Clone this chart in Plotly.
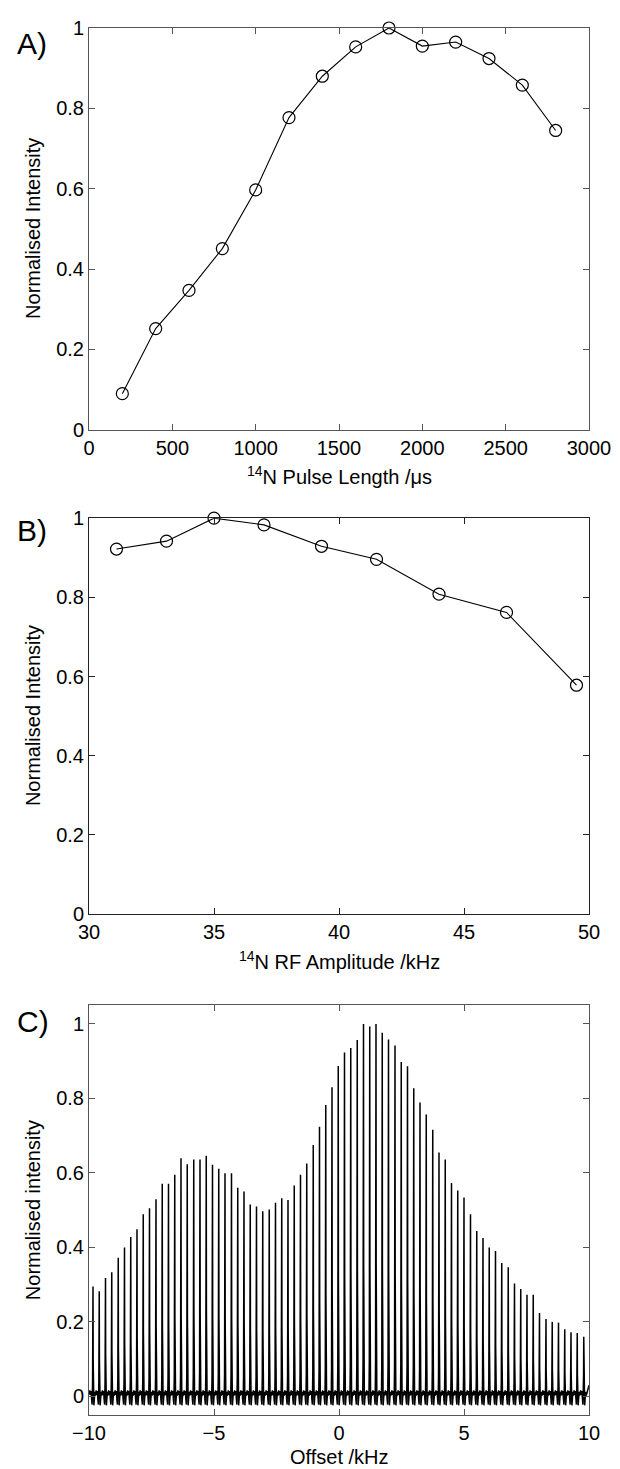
import plotly.graph_objects as go
from plotly.subplots import make_subplots

# A) 14N pulse length sweep
pulse_len_us = [200, 400, 600, 800, 1000, 1200, 1400, 1600, 1800, 2000, 2200, 2400, 2600, 2800]
pulse_int = [0.090, 0.252, 0.347, 0.451, 0.597, 0.777, 0.880, 0.953, 1.0, 0.955, 0.965, 0.924, 0.858, 0.745]

# B) 14N RF amplitude sweep
rf_amp_khz = [31.1, 33.1, 35.0, 37.0, 39.3, 41.5, 44.0, 46.7, 49.5]
rf_int = [0.922, 0.942, 1.0, 0.983, 0.929, 0.896, 0.808, 0.762, 0.578]

# C) offset profile: sideband positions (kHz) and heights
peak_offset_khz = [
    -9.84, -9.59, -9.34, -9.09, -8.83, -8.58, -8.33, -8.08, -7.83, -7.58,
    -7.32, -7.07, -6.82, -6.57, -6.32, -6.07, -5.81, -5.56, -5.31, -5.06,
    -4.81, -4.56, -4.30, -4.05, -3.80, -3.55, -3.30, -3.05, -2.79, -2.54,
    -2.29, -2.04, -1.79, -1.54, -1.29, -1.03, -0.78, -0.53, -0.28, -0.03,
    0.22, 0.47, 0.73, 0.98, 1.23, 1.48, 1.73, 1.98, 2.24, 2.49,
    2.74, 2.99, 3.24, 3.49, 3.75, 4.00, 4.25, 4.50, 4.75, 5.00,
    5.26, 5.51, 5.76, 6.01, 6.26, 6.51, 6.77, 7.02, 7.27, 7.52,
    7.77, 8.02, 8.28, 8.53, 8.78, 9.03, 9.28, 9.53, 9.79,
]
peak_height = [
    0.295, 0.282, 0.318, 0.333, 0.372, 0.400, 0.428, 0.449, 0.489, 0.505,
    0.529, 0.571, 0.571, 0.595, 0.639, 0.623, 0.636, 0.636, 0.646, 0.622,
    0.611, 0.599, 0.599, 0.560, 0.550, 0.515, 0.510, 0.497, 0.502, 0.520,
    0.532, 0.527, 0.566, 0.595, 0.625, 0.675, 0.724, 0.782, 0.830, 0.887,
    0.923, 0.935, 0.957, 1.0, 0.993, 1.0, 0.976, 0.958, 0.942, 0.898,
    0.886, 0.827, 0.789, 0.757, 0.716, 0.655, 0.636, 0.573, 0.553, 0.534,
    0.489, 0.444, 0.425, 0.400, 0.390, 0.358, 0.347, 0.303, 0.288, 0.273,
    0.273, 0.224, 0.208, 0.200, 0.198, 0.180, 0.172, 0.170, 0.160,
]

FONT = "Liberation Sans"

# narrow line shape around each sideband, with a small baseline ripple
shape_dx = [-0.125, -0.10, -0.075, -0.055, -0.035, -0.018, -0.007, 0.0,
            0.007, 0.018, 0.035, 0.055, 0.075, 0.10]
shape_base = [0.016, 0.004, 0.014, -0.008, -0.022, 0.012, 0.0, 0.0,
              0.0, 0.012, -0.024, -0.006, 0.012, 0.002]
shape_frac = [0, 0, 0, 0, 0, 0.08, 0.35, 1.0, 0.35, 0.08, 0, 0, 0, 0]

spec_x = [-10.0]
spec_y = [0.005]
for pos, h in zip(peak_offset_khz, peak_height):
    for dx, b, f in zip(shape_dx, shape_base, shape_frac):
        spec_x.append(pos + dx)
        spec_y.append(b + f * h)
spec_x.append(10.0)
spec_y.append(0.03)

fig = make_subplots(rows=3, cols=1)

marker_style = dict(symbol="circle-open", size=12, color="black", line=dict(width=1.2))
fig.add_trace(go.Scatter(x=pulse_len_us, y=pulse_int, mode="lines+markers",
                         line=dict(color="black", width=1.1), marker=marker_style,
                         cliponaxis=False), row=1, col=1)
fig.add_trace(go.Scatter(x=rf_amp_khz, y=rf_int, mode="lines+markers",
                         line=dict(color="black", width=1.1), marker=marker_style,
                         cliponaxis=False), row=2, col=1)
fig.add_trace(go.Scatter(x=spec_x, y=spec_y, mode="lines",
                         line=dict(color="black", width=1.5)), row=3, col=1)

axis_style = dict(showline=True, mirror="ticks", ticks="inside", ticklen=6,
                  showgrid=False, zeroline=False, ticklabeloverflow="allow",
                  tickfont=dict(family=FONT, size=20, color="black"))

y_ticks = [0, 0.2, 0.4, 0.6, 0.8, 1]
y_text = ["0", "0.2", "0.4", "0.6", "0.8", "1"]

fig.update_xaxes(axis_style)
fig.update_yaxes(axis_style)

fig.update_xaxes(range=[0, 3000], tickvals=[0, 500, 1000, 1500, 2000, 2500, 3000],
                 linecolor="#555", tickcolor="#555", row=1, col=1)
fig.update_yaxes(range=[0, 1], tickvals=y_ticks, ticktext=y_text, domain=[0.7103, 1.0],
                 linecolor="#555", tickcolor="#555", row=1, col=1)
fig.update_xaxes(range=[30, 50], tickvals=[30, 35, 40, 45, 50],
                 linecolor="#222", tickcolor="#222", row=2, col=1)
fig.update_yaxes(range=[0, 1], tickvals=y_ticks, ticktext=y_text, domain=[0.3612, 0.6466],
                 linecolor="#222", tickcolor="#222", row=2, col=1)
fig.update_xaxes(range=[-10, 10], tickvals=[-10, -5, 0, 5, 10],
                 ticktext=["\u221210", "\u22125", "0", "5", "10"],
                 linecolor="#555", tickcolor="#555", row=3, col=1)
fig.update_yaxes(range=[-0.05, 1.05], tickvals=y_ticks, ticktext=y_text, domain=[0.0, 0.2954],
                 linecolor="#555", tickcolor="#555", row=3, col=1)

# panel letters and axis labels
panels = [
    ("y", "A)", -15, -46, "Normalised Intensity", "<sup>14</sup>N Pulse Length /\u03bcs"),
    ("y2", "B)", -12, -46, "Normalised Intensity", "<sup>14</sup>N RF Amplitude /kHz"),
    ("y3", "C)", -16, -42, "Normalised intensity", "Offset /kHz"),
]
for yref, letter, shift, xshift_lab, ylab, xlab in panels:
    fig.add_annotation(text=letter, xref="paper", x=-0.149, xanchor="left",
                       yref=yref + " domain", y=1, yshift=shift, yanchor="middle",
                       showarrow=False, font=dict(family=FONT, size=30, color="black"))
    fig.add_annotation(text=ylab, xref="paper", x=-0.112, xanchor="center",
                       yref=yref + " domain", y=0.5, yanchor="middle", textangle=-90,
                       showarrow=False, font=dict(family=FONT, size=20, color="black"))
    fig.add_annotation(text=xlab, xref="paper", x=0.5, xanchor="center",
                       yref=yref + " domain", y=0, yshift=xshift_lab, yanchor="middle",
                       showarrow=False, font=dict(family=FONT, size=20, color="black"))

# the page body adds an 8px margin at top/left, so the figure is 8px smaller than the window
fig.update_layout(width=612, height=1461, autosize=False,
                  margin=dict(l=81, r=22, t=9, b=54),
                  plot_bgcolor="white", paper_bgcolor="white",
                  showlegend=False, font=dict(family=FONT, color="black"))

fig.write_html("out.html")
